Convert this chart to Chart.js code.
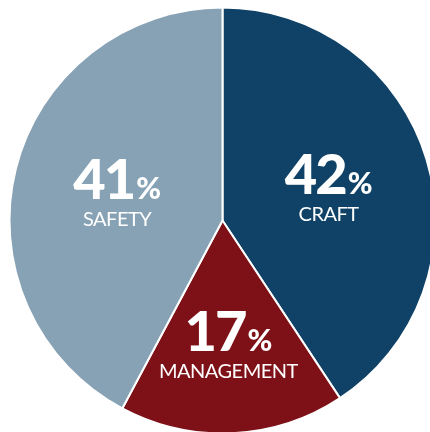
<!DOCTYPE html>
<html>
<head>
<meta charset="utf-8">
<script src="https://cdn.jsdelivr.net/npm/chart.js@4"></script>
<style>
  html, body { margin: 0; padding: 0; background: #fff; }
  #wrap { width: 430px; height: 432px; overflow: hidden; position: relative; }
  #pie { position: absolute; left: 0; top: 0; }
</style>
</head>
<body>
<div id="wrap"><canvas id="pie" width="445" height="441"></canvas></div>
<script>
// slice sizes as they are drawn in the picture, and the labels printed on them
const categories = ["CRAFT", "MANAGEMENT", "SAFETY"];
const sliceValues = [40.7, 17.1, 42.2];
const percentLabels = ["42", "17", "41"];
const colors = ["#0f4266", "#7e1118", "#87a2b5"];

// how far out from the centre each label block sits (fraction of radius)
const labelRadius = [0.52, 0.59, 0.51];

// draw the big number + % + name inside each slice
const sliceLabels = {
  id: "sliceLabels",
  afterDatasetsDraw(chart) {
    const ctx = chart.ctx;
    const arcs = chart.getDatasetMeta(0).data;
    arcs.forEach(function (arc, i) {
      const p = arc.getProps(["x", "y", "startAngle", "endAngle", "outerRadius"], true);
      const mid = (p.startAngle + p.endAngle) / 2;
      const r = p.outerRadius * labelRadius[i];
      const cx = p.x + Math.cos(mid) * r;
      const cy = p.y + Math.sin(mid) * r;

      ctx.save();
      ctx.fillStyle = "#ffffff";
      ctx.textBaseline = "alphabetic";

      // number and percent sign side by side, centred together
      const numFont = "900 56px Lato";
      const pctFont = "900 30px Lato";
      ctx.letterSpacing = "-2px";
      ctx.font = numFont;
      const numW = ctx.measureText(percentLabels[i]).width;
      ctx.letterSpacing = "0px";
      ctx.font = pctFont;
      const pctW = ctx.measureText("%").width;
      const left = cx - (numW + pctW + 2) / 2;
      const base = cy + 5;
      ctx.textAlign = "left";
      ctx.letterSpacing = "-2px";
      ctx.font = numFont;
      ctx.fillText(percentLabels[i], left, base);
      ctx.letterSpacing = "0px";
      ctx.font = pctFont;
      ctx.fillText("%", left + numW + 2, base);

      // category name underneath
      ctx.font = "400 20px Lato";
      ctx.letterSpacing = "-0.5px";
      ctx.textAlign = "center";
      ctx.fillText(categories[i], cx, base + 27);
      ctx.restore();
    });
  }
};

new Chart(document.getElementById("pie"), {
  type: "pie",
  data: {
    labels: categories,
    datasets: [{
      data: sliceValues,
      backgroundColor: colors,
      borderColor: "#ffffff",
      borderWidth: 2
    }]
  },
  options: {
    responsive: false,
    animation: false,
    layout: { padding: 6.5 },
    plugins: {
      legend: { display: false },
      tooltip: { enabled: false }
    }
  },
  plugins: [sliceLabels]
});
</script>
</body>
</html>
